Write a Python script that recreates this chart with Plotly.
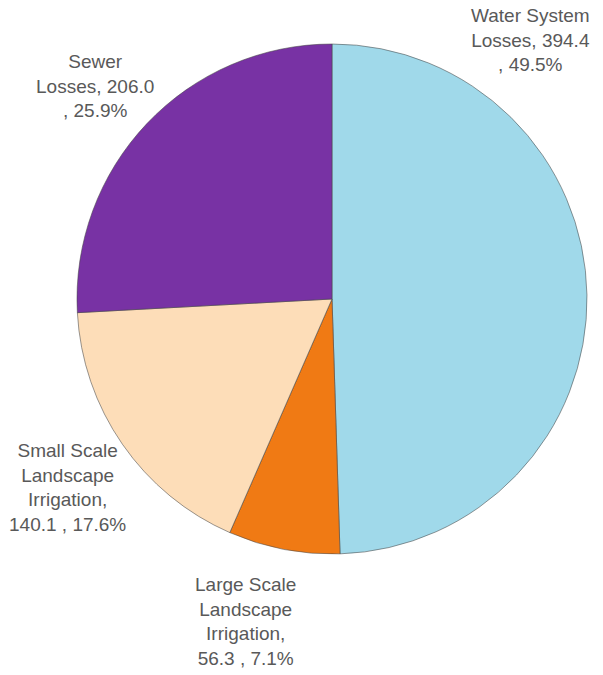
import plotly.graph_objects as go

categories = ["Water System Losses", "Large Scale Landscape Irrigation",
              "Small Scale Landscape Irrigation", "Sewer Losses"]
values = [394.4, 56.3, 140.1, 206.0]
percents = ["49.5%", "7.1%", "17.6%", "25.9%"]
label_texts = [
    "Water System<br>Losses, 394.4<br>, 49.5%",
    "Large Scale<br>Landscape<br>Irrigation,<br>56.3 , 7.1%",
    "Small Scale<br>Landscape<br>Irrigation,<br>140.1 , 17.6%",
    "Sewer<br>Losses, 206.0<br>, 25.9%",
]
colors = ["#A0D9EA", "#F07A14", "#FDDDB8", "#7832A4"]

W, H = 603, 675
cx, cy, r = 332, 299, 255

fig = go.Figure(go.Pie(
    labels=categories,
    values=values,
    sort=False,
    direction="clockwise",
    rotation=0,
    textinfo="none",
    hoverinfo="label+value+percent",
    marker=dict(colors=colors, line=dict(color="rgba(70,70,70,0.55)", width=1)),
    domain=dict(x=[(cx - r) / W, (cx + r) / W], y=[1 - (cy + r) / H, 1 - (cy - r) / H]),
    showlegend=False,
))

# label anchor positions in pixels (center of text block)
label_pos = [(530, 40), (245, 621), (67, 488), (95, 86)]
font = dict(family="Liberation Sans Narrow, Arial Narrow, Liberation Sans, sans-serif",
            size=19, color="#595959")
for txt, (px, py) in zip(label_texts, label_pos):
    fig.add_annotation(x=px / W, y=1 - py / H, xref="paper", yref="paper",
                       text=txt, showarrow=False, align="center",
                       xanchor="center", yanchor="middle", font=font)

fig.update_layout(width=W, height=H, margin=dict(l=0, r=0, t=0, b=0),
                  paper_bgcolor="white", plot_bgcolor="white")
fig.write_html("out.html")
